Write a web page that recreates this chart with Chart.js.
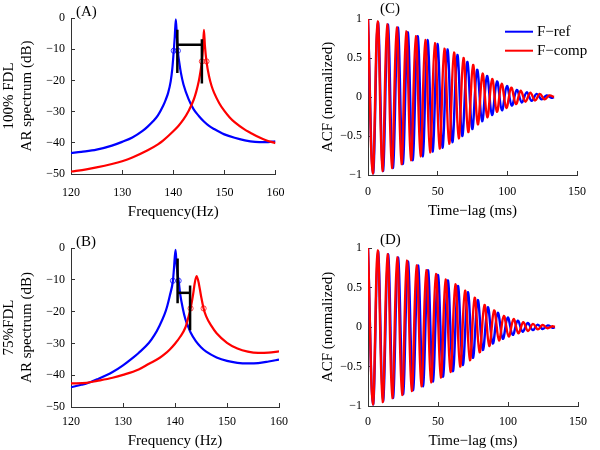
<!DOCTYPE html>
<html>
<head>
<meta charset="utf-8">
<script src="https://cdn.jsdelivr.net/npm/chart.js@4.4.1/dist/chart.umd.min.js"></script>
<style>
  body { margin: 0; background: #fff; }
  #wrap { position: relative; width: 600px; height: 450px; }
  .panel { position: absolute; width: 300px; height: 225px; }
</style>
</head>
<body>
<div id="wrap">
  <div class="panel" style="left:0;top:0"><canvas id="chartA" width="300" height="225"></canvas></div>
  <div class="panel" style="left:300px;top:0"><canvas id="chartC" width="300" height="225"></canvas></div>
  <div class="panel" style="left:0;top:225px"><canvas id="chartB" width="300" height="225"></canvas></div>
  <div class="panel" style="left:300px;top:225px"><canvas id="chartD" width="300" height="225"></canvas></div>
</div>
<script>
// (A) AR spectrum, 100% FDL
const freqRefA = [120, 122, 125, 128, 130, 132, 134, 135, 136, 137, 138, 138.5, 139, 139.5, 139.8, 140.1, 140.3, 140.5, 140.7, 140.9, 141.2, 141.5, 142, 143, 144, 145, 146, 147, 148, 150, 152, 154, 156, 158, 160];
const dbRefA = [-43.3, -42.9, -42.2, -40.9, -39.7, -38.3, -36.2, -34.8, -33.2, -31.2, -28.2, -26.3, -24.0, -20.3, -16.5, -10.5, -6.0, -0.4, -5.5, -10.5, -14.5, -17.6, -21.3, -26.0, -29.3, -31.4, -33.2, -34.6, -35.6, -37.3, -38.4, -39.2, -39.7, -39.8, -39.5];
const freqCompA = [120, 123, 125, 128, 130, 132, 135, 137, 138, 140, 141, 142, 143, 144, 144.5, 145, 145.3, 145.6, 145.8, 146, 146.2, 146.5, 147, 147.5, 148, 149, 150, 151, 152, 154, 155, 157, 158, 160];
const dbCompA = [-49.2, -48.5, -47.9, -46.8, -45.9, -44.7, -42.4, -40.5, -39.3, -36.3, -34.6, -32.5, -29.8, -26.2, -23.6, -20.2, -17.4, -13.9, -10.2, -3.8, -9.0, -13.9, -18.7, -21.8, -24.0, -27.3, -29.8, -31.8, -33.4, -35.8, -36.7, -38.4, -39.1, -40.1];
const circRefA = [140.1, 140.9];
const circRefA_db = [-10.5, -10.5];
const circCompA = [145.6, 146.5];
const circCompA_db = [-13.9, -13.9];
// black bars: [f1, db1, f2, db2]
const barsA = [[140.8, -3.8, 140.8, -17.6], [145.6, -6.8, 145.6, -21.0], [140.8, -8.6, 145.6, -8.6]];

// (B) AR spectrum, 75% FDL
const freqRefB = [120, 122, 123, 125, 128, 130, 132, 133, 135, 136, 137, 138, 138.5, 139, 139.6, 139.8, 140.1, 140.3, 140.5, 140.7, 141, 141.5, 142, 142.5, 143, 144, 145, 146, 148, 150, 152, 154, 156, 158, 160];
const dbRefB = [-43.8, -43.0, -42.6, -41.3, -39.0, -36.9, -34.4, -33.0, -29.8, -27.5, -24.5, -20.8, -18.3, -15.0, -10.3, -6.5, -0.6, -5.0, -8.2, -10.3, -14.5, -19.0, -22.4, -24.6, -26.6, -29.3, -31.2, -32.6, -34.4, -35.5, -36.1, -36.3, -36.2, -35.7, -35.1];
const freqCompB = [120, 123, 125, 128, 130, 133, 135, 137, 138, 139, 140, 141, 142, 142.5, 143, 143.5, 143.8, 144.15, 144.5, 145, 145.5, 146, 147, 148, 150, 152, 154, 156, 158, 160];
const dbCompB = [-42.6, -42.4, -41.8, -40.8, -39.9, -38.2, -36.4, -34.6, -33.4, -31.9, -30.1, -27.9, -25.0, -22.2, -19.0, -14.4, -11.0, -8.8, -10.5, -15.0, -19.0, -21.5, -24.5, -26.8, -29.8, -31.6, -32.6, -33.0, -32.9, -32.5];
const circRefB = [139.6, 140.7];
const circRefB_db = [-10.3, -10.3];
const circCompB = [143.0, 145.5];
const circCompB_db = [-19.0, -19.0];
const barsB = [[140.5, -3.3, 140.5, -17.4], [142.9, -11.8, 142.9, -25.9], [140.5, -14.1, 142.9, -14.1]];

// (C) ACF peaks and troughs, 100% FDL
const lagRefC = [0, 3.6, 7.1, 10.7, 14.2, 17.8, 21.4, 24.9, 28.5, 32.0, 35.6, 39.2, 42.7, 46.3, 49.8, 53.4, 57.0, 60.5, 64.1, 67.6, 71.2, 74.8, 78.3, 81.9, 85.4, 89.0, 92.6, 96.1, 99.7, 103.2, 106.8, 110.4, 113.9, 117.5, 121.0, 124.6, 128.2, 131.7, 133.5];
const acfRefC = [1, -0.98, 0.96, -0.95, 0.93, -0.91, 0.89, -0.86, 0.83, -0.81, 0.78, -0.76, 0.73, -0.70, 0.68, -0.65, 0.61, -0.58, 0.54, -0.50, 0.45, -0.41, 0.35, -0.31, 0.27, -0.23, 0.20, -0.17, 0.14, -0.11, 0.09, -0.07, 0.06, -0.05, 0.04, -0.03, 0.02, -0.01, 0];
const lagCompC = [0, 3.4, 6.9, 10.3, 13.7, 17.1, 20.6, 24.0, 27.4, 30.8, 34.3, 37.7, 41.1, 44.5, 48.0, 51.4, 54.8, 58.2, 61.7, 65.1, 68.5, 71.9, 75.4, 78.8, 82.2, 85.6, 89.1, 92.5, 95.9, 99.3, 102.8, 106.2, 109.6, 113.0, 116.5, 119.9, 123.3, 126.7, 130.2, 133.5];
const acfCompC = [1, -0.98, 0.97, -0.95, 0.93, -0.91, 0.89, -0.86, 0.84, -0.81, 0.78, -0.76, 0.73, -0.71, 0.69, -0.66, 0.62, -0.60, 0.57, -0.53, 0.50, -0.45, 0.41, -0.35, 0.30, -0.26, 0.23, -0.19, 0.17, -0.14, 0.12, -0.09, 0.08, -0.06, 0.055, -0.045, 0.04, -0.03, 0.02, 0];

// (D) ACF peaks and troughs, 75% FDL
const lagRefD = [0, 3.6, 7.1, 10.7, 14.3, 17.8, 21.4, 25.0, 28.5, 32.1, 35.7, 39.2, 42.8, 46.3, 49.9, 53.5, 57.0, 60.6, 64.2, 67.7, 71.3, 74.9, 78.4, 82.0, 85.6, 89.1, 92.7, 96.3, 99.8, 103.4, 107.0, 110.5, 114.1, 117.7, 121.2, 124.8, 128.4, 131.9, 133.5];
const acfRefD = [1, -0.98, 0.96, -0.94, 0.92, -0.90, 0.88, -0.85, 0.83, -0.80, 0.78, -0.75, 0.72, -0.69, 0.66, -0.63, 0.59, -0.56, 0.52, -0.48, 0.44, -0.39, 0.34, -0.29, 0.25, -0.21, 0.18, -0.15, 0.12, -0.10, 0.08, -0.06, 0.05, -0.04, 0.03, -0.025, 0.02, -0.01, 0];
const lagCompD = [0, 3.5, 6.9, 10.4, 13.9, 17.3, 20.8, 24.3, 27.7, 31.2, 34.7, 38.1, 41.6, 45.0, 48.5, 52.0, 55.4, 58.9, 62.4, 65.8, 69.3, 72.8, 76.2, 79.7, 83.2, 86.6, 90.1, 93.6, 97.0, 100.5, 104.0, 107.4, 110.9, 114.3, 117.8, 121.3, 124.7, 128.2, 131.7, 133.5];
const acfCompD = [1, -0.98, 0.97, -0.95, 0.92, -0.90, 0.88, -0.86, 0.84, -0.81, 0.78, -0.75, 0.72, -0.70, 0.67, -0.64, 0.60, -0.57, 0.54, -0.50, 0.46, -0.42, 0.37, -0.32, 0.28, -0.24, 0.21, -0.17, 0.14, -0.12, 0.10, -0.08, 0.06, -0.05, 0.04, -0.03, 0.025, -0.015, 0.01, 0];

const BLUE = "#0000ff";
const RED = "#ff0000";

Chart.defaults.font.family = "'Liberation Serif', 'Times New Roman', serif";
Chart.defaults.color = "#000";
Chart.defaults.animation = false;

const minusSign = v => String(v).replace("-", "\u2212");
const zip = (xs, ys) => xs.map((x, i) => ({ x: x, y: ys[i] }));

function curve(xs, ys, color, label, order, smooth) {
  const spectrum = smooth === "monotone";
  return {
    label: label,
    data: zip(xs, ys),
    borderColor: color,
    backgroundColor: color,
    borderWidth: spectrum ? 2.2 : 2.4,
    pointRadius: 0,
    order: order,
    cubicInterpolationMode: spectrum ? "monotone" : "default",
    tension: spectrum ? 0 : 0.38
  };
}

function circles(xs, ys, color) {
  return {
    data: zip(xs, ys),
    showLine: false,
    pointRadius: 2.6,
    pointBorderWidth: 1,
    pointBorderColor: color,
    pointBackgroundColor: "rgba(0,0,0,0)",
    order: 1
  };
}

function bars(list) {
  return list.map(b => ({
    data: [{ x: b[0], y: b[1] }, { x: b[2], y: b[3] }],
    borderColor: "#000",
    borderWidth: 2.5,
    pointRadius: 0,
    order: 0
  }));
}

// panel tag and the small legend
const panelText = {
  id: "panelText",
  afterDraw(chart, args, o) {
    const ctx = chart.ctx;
    ctx.save();
    ctx.font = "15px 'Liberation Serif', serif";
    ctx.fillStyle = "#000";
    ctx.textBaseline = "middle";
    ctx.fillText(o.tag, o.tagX, o.tagY);
    if (o.legend) {
      chart.data.datasets.filter(d => d.label).forEach((d, i) => {
        const y = o.legendY + i * 19;
        ctx.strokeStyle = d.borderColor;
        ctx.lineWidth = 2;
        ctx.beginPath();
        ctx.moveTo(o.legendX, y);
        ctx.lineTo(o.legendX + 28, y);
        ctx.stroke();
        ctx.fillText(d.label, o.legendX + 32, y);
      });
    }
    ctx.restore();
  }
};

function makePanel(id, p) {
  new Chart(document.getElementById(id), {
    type: "line",
    data: { datasets: p.datasets },
    plugins: [panelText],
    options: {
      responsive: false,
      layout: { padding: { top: p.top, right: p.right, left: 0, bottom: 0 } },
      plugins: {
        legend: { display: false },
        tooltip: { enabled: false },
        panelText: p.text
      },
      scales: {
        x: {
          type: "linear", min: p.xMin, max: p.xMax,
          afterFit: s => { s.height = p.xHeight; },
          border: { display: true, color: "#333", width: 1 },
          grid: { drawOnChartArea: false, tickLength: -4, color: "#333" },
          ticks: { stepSize: p.xStep, padding: p.xPad, maxRotation: 0, autoSkip: false, font: { size: 12 }, callback: minusSign },
          title: { display: true, text: p.xTitle, font: { size: 15 }, padding: { top: 0, bottom: p.xTitlePad } }
        },
        y: {
          type: "linear", min: p.yMin, max: p.yMax,
          afterFit: s => { s.width = p.yWidth; },
          border: { display: true, color: "#333", width: 1 },
          grid: { drawOnChartArea: false, tickLength: -4, color: "#333" },
          ticks: { stepSize: p.yStep, padding: 10, autoSkip: false, font: { size: 12 }, callback: minusSign },
          title: { display: true, text: p.yTitle, font: { size: 15 }, padding: { top: p.yTitlePad, bottom: 0 } }
        }
      }
    }
  });
}

makePanel("chartA", {
  datasets: [
    curve(freqRefA, dbRefA, BLUE, "", 3, "monotone"),
    curve(freqCompA, dbCompA, RED, "", 2, "monotone"),
    circles(circRefA, circRefA_db, "rgba(0,0,255,0.75)"),
    circles(circCompA, circCompA_db, "rgba(255,0,0,0.75)")
  ].concat(bars(barsA)),
  top: 18, right: 20, xHeight: 51, yWidth: 71,
  xMin: 120, xMax: 160, xStep: 10, xPad: 15.5, xTitle: "Frequency(Hz)", xTitlePad: 4,
  yMin: -50, yMax: 0, yStep: 10, yTitle: ["100% FDL", "AR spectrum (dB)"], yTitlePad: 0,
  text: { tag: "(A)", tagX: 76, tagY: 12.5 }
});

makePanel("chartB", {
  datasets: [
    curve(freqRefB, dbRefB, BLUE, "", 3, "monotone"),
    curve(freqCompB, dbCompB, RED, "", 2, "monotone"),
    circles(circRefB, circRefB_db, "rgba(0,0,255,0.75)"),
    circles(circCompB, circCompB_db, "rgba(255,0,0,0.75)")
  ].concat(bars(barsB)),
  top: 23, right: 20, xHeight: 43, yWidth: 71,
  xMin: 120, xMax: 160, xStep: 10, xPad: 12, xTitle: "Frequency (Hz)", xTitlePad: 0,
  yMin: -50, yMax: 0, yStep: 10, yTitle: ["75%FDL", "AR spectrum (dB)"], yTitlePad: 0,
  text: { tag: "(B)", tagX: 76, tagY: 16.7 }
});

makePanel("chartC", {
  datasets: [
    curve(lagRefC, acfRefC, BLUE, "F\u2212ref", 2),
    curve(lagCompC, acfCompC, RED, "F\u2212comp", 1)
  ],
  top: 19, right: 11, xHeight: 50, yWidth: 68,
  xMin: 0, xMax: 150, xStep: 50, xPad: 14, xTitle: "Time\u2212lag (ms)", xTitlePad: 5,
  yMin: -1, yMax: 1, yStep: 0.5, yTitle: "ACF (normalized)", yTitlePad: 19,
  text: { tag: "(C)", tagX: 80, tagY: 9.5, legend: true, legendX: 205, legendY: 31.7 }
});

makePanel("chartD", {
  datasets: [
    curve(lagRefD, acfRefD, BLUE, "", 2),
    curve(lagCompD, acfCompD, RED, "", 1)
  ],
  top: 23, right: 11, xHeight: 44, yWidth: 68,
  xMin: 0, xMax: 150, xStep: 50, xPad: 13, xTitle: "Time\u2212lag (ms)", xTitlePad: 0,
  yMin: -1, yMax: 1, yStep: 0.5, yTitle: "ACF (normalized)", yTitlePad: 19,
  text: { tag: "(D)", tagX: 80, tagY: 15 }
});
</script>
</body>
</html>
